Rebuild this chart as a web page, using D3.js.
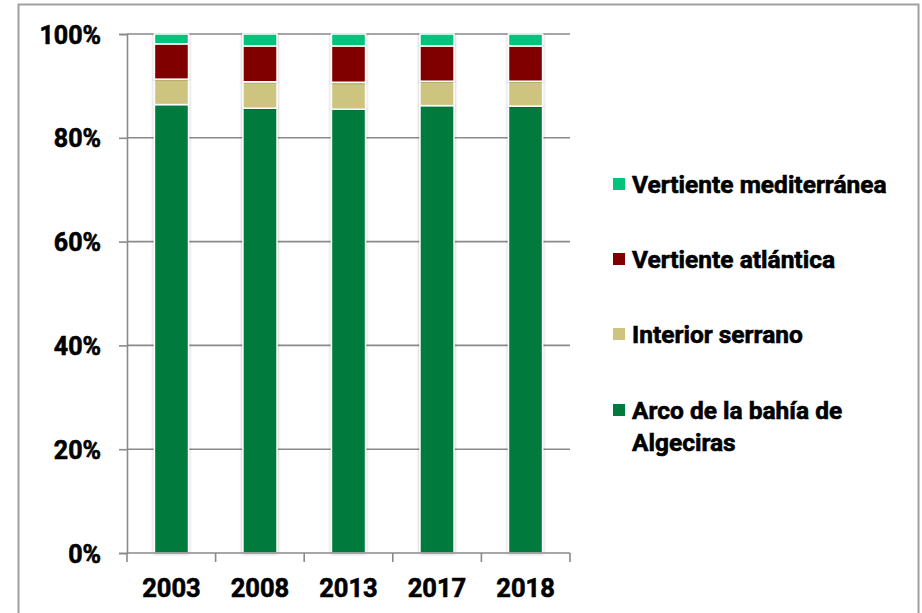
<!DOCTYPE html>
<html lang="es">
<head>
<meta charset="UTF-8">
<title>Distribución por comarcas</title>
<script src="https://cdn.jsdelivr.net/npm/d3@7"></script>
<style>
  body { margin: 0; background: #fff; }
  text { font-family: Roboto, "Liberation Sans", sans-serif; font-weight: 700; fill: #000; stroke: #000; stroke-width: 0.6px; }
</style>
</head>
<body>
<svg width="922" height="613"></svg>
<script>
// data (percent of total)
const years = ["2003", "2008", "2013", "2017", "2018"];
const arco = [86.4, 85.7, 85.5, 86.2, 86.1];
const interior = [4.9, 5.1, 5.2, 4.7, 4.8];
const atlantica = [6.8, 6.9, 7.0, 6.8, 6.8];
const mediterranea = [1.9, 2.3, 2.3, 2.3, 2.3];
const yTicks = [0, 20, 40, 60, 80, 100];

const seriesNames = ["Arco de la bahía de Algeciras", "Interior serrano", "Vertiente atlántica", "Vertiente mediterránea"];
const seriesKeys = ["arco", "interior", "atlantica", "mediterranea"];
const colors = ["#007a3d", "#ccc47f", "#800000", "#00c47c"];

let rows = years.map((y, i) => ({
  year: y, arco: arco[i], interior: interior[i], atlantica: atlantica[i], mediterranea: mediterranea[i]
}));

let svg = d3.select("svg");

// outer frame
svg.append("rect")
  .attr("x", 18.5).attr("y", 4.5).attr("width", 900).attr("height", 640)
  .style("fill", "none").style("stroke", "#a0a0a0").style("stroke-width", 2);

let defs = svg.append("defs");
let f = defs.append("filter").attr("id", "shadow").attr("x", "-20%").attr("y", "-5%").attr("width", "140%").attr("height", "110%");
f.append("feDropShadow").attr("dx", 0).attr("dy", 0).attr("stdDeviation", 1.6)
  .attr("flood-color", "#000").attr("flood-opacity", 0.3);

let pLeft = 127, pRight = 570, pTop = 34, pBottom = 553;

let x = d3.scaleBand().domain(years).range([pLeft, pRight]).paddingInner(0.615).paddingOuter(0.31);
let y = d3.scaleLinear().domain([0, 100]).range([pBottom, pTop]);

// gridlines
svg.append("g")
  .selectAll("line")
  .data(yTicks.filter(d => d > 0))
  .join("line")
  .attr("x1", pLeft).attr("x2", pRight)
  .attr("y1", d => y(d)).attr("y2", d => y(d))
  .style("stroke", "#8a8a8a").style("stroke-width", 1.6);

// y axis
let yAxis = svg.append("g")
  .attr("transform", `translate(${pLeft},0)`)
  .call(d3.axisLeft(y).tickValues(yTicks).tickFormat(d => d + "%").tickSize(8).tickPadding(18));
yAxis.select(".domain").style("stroke", "#8a8a8a").style("stroke-width", 1.6);
yAxis.selectAll(".tick line").style("stroke", "#8a8a8a").style("stroke-width", 1.6);
yAxis.selectAll("text").style("font-size", "25px").attr("dy", "0.36em");

// stacked bars
let stack = d3.stack().keys(seriesKeys)(rows);
svg.append("g")
  .selectAll("g")
  .data(stack)
  .join("g")
  .style("fill", (d, i) => colors[i])
  .selectAll("rect")
  .data(d => d)
  .join("rect")
  .attr("x", d => x(d.data.year))
  .attr("width", x.bandwidth())
  .attr("y", d => y(d[1]))
  .attr("height", d => y(d[0]) - y(d[1]))
  .style("stroke", "#fff").style("stroke-width", 1.5)
  .attr("filter", "url(#shadow)");

// x axis with ticks at the category boundaries
let xAxisG = svg.append("g").attr("transform", `translate(0,${pBottom})`);
xAxisG.append("line").attr("x1", pLeft).attr("x2", pRight)
  .style("stroke", "#8a8a8a").style("stroke-width", 1.6);
xAxisG.selectAll("line.tk")
  .data(d3.range(years.length + 1))
  .join("line").attr("class", "tk")
  .attr("x1", i => pLeft + i * (pRight - pLeft) / years.length)
  .attr("x2", i => pLeft + i * (pRight - pLeft) / years.length)
  .attr("y1", 0).attr("y2", 9)
  .style("stroke", "#8a8a8a").style("stroke-width", 1.6);
xAxisG.selectAll("text")
  .data(years)
  .join("text")
  .attr("x", d => x(d) + x.bandwidth() / 2)
  .attr("y", 35)
  .attr("dy", "0.36em")
  .attr("text-anchor", "middle")
  .style("font-size", "25.5px")
  .text(d => d);

// legend (top to bottom reversed order)
let legendItems = [
  { name: "Vertiente mediterránea", color: colors[3], y: 184 },
  { name: "Vertiente atlántica", color: colors[2], y: 259 },
  { name: "Interior serrano", color: colors[1], y: 334 },
  { name: "Arco de la bahía de", name2: "Algeciras", color: colors[0], y: 410 }
];
let lg = svg.append("g").selectAll("g").data(legendItems).join("g")
  .attr("transform", d => `translate(613,${d.y})`);
lg.append("rect").attr("x", 0).attr("y", -6).attr("width", 12).attr("height", 12)
  .style("fill", d => d.color);
lg.append("text").attr("x", 19).attr("dy", "0.36em")
  .style("font-size", "24.5px")
  .text(d => d.name);
lg.filter(d => d.name2).append("text").attr("x", 19).attr("y", 32).attr("dy", "0.36em")
  .style("font-size", "24.5px")
  .text(d => d.name2);
</script>
</body>
</html>
